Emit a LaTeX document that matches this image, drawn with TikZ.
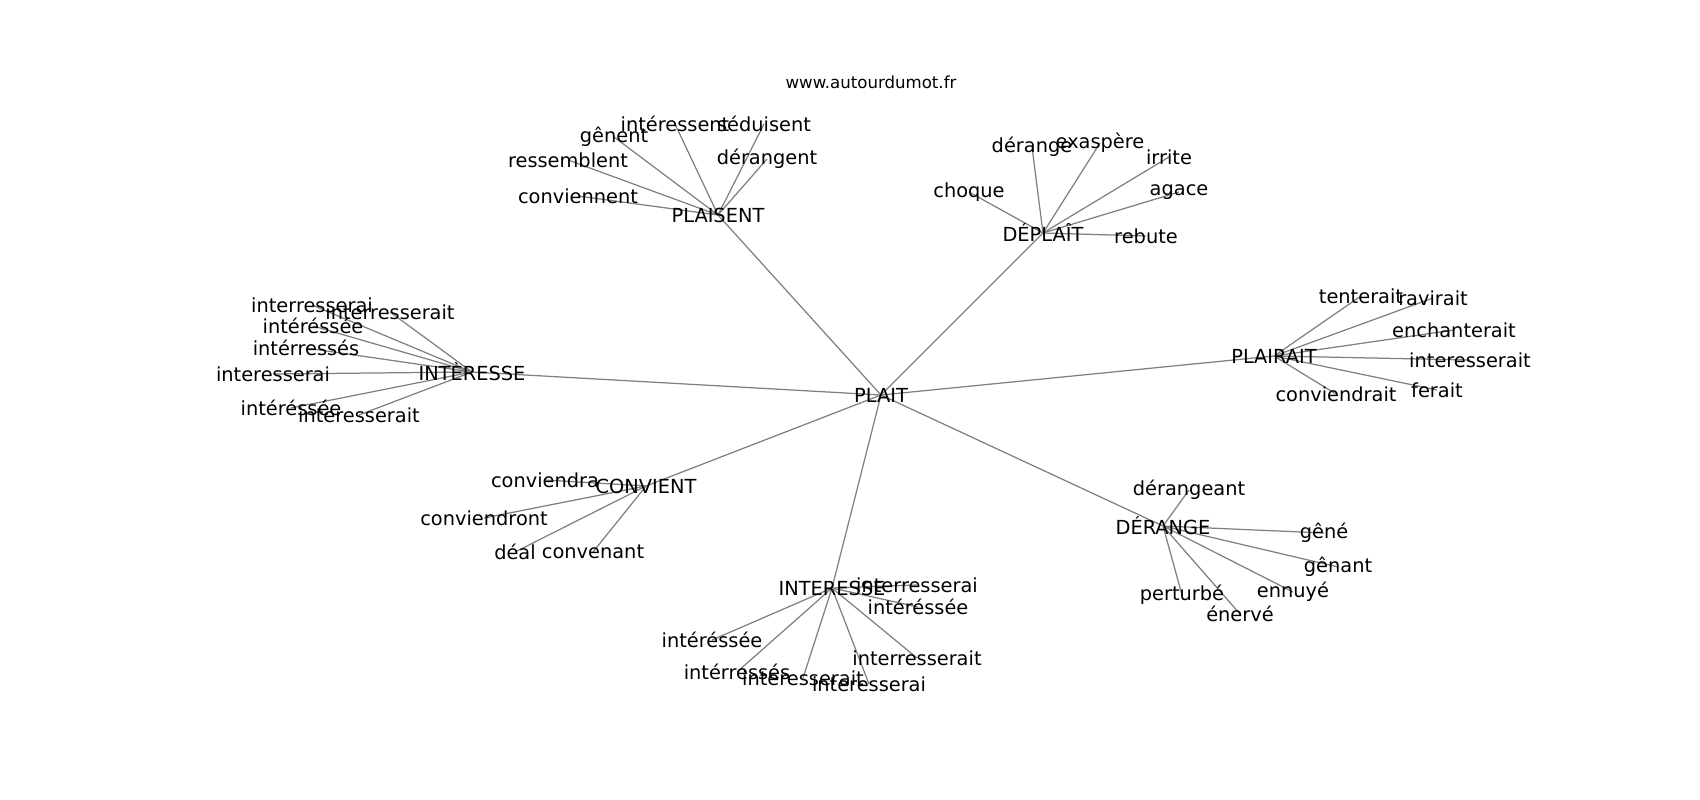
\documentclass[tikz,border=0pt]{standalone}
\usepackage{fontspec}
\setmainfont{DejaVu Sans}
\usepackage{xcolor}
\usepackage{tikz}

\begin{document}
\begin{tikzpicture}[x=0.254mm, y=-0.254mm,
    word/.style={inner sep=0pt, font=\fontsize{14}{16}\selectfont},
    link/.style={draw=gray, line width=0.9pt}]
        \useasboundingbox (0,0) rectangle (1700,800);
        \node[inner sep=0pt, font=\fontsize{12}{14}\selectfont] (site) at (871,82) {www.autourdumot.fr};

        % centre
        \coordinate (plait) at (881,395);
        \coordinate (plaisent) at (718,215);
        \coordinate (deplait) at (1043,233);
        \coordinate (interesse) at (472,372);
        \coordinate (plairait) at (1274,356);
        \coordinate (convient) at (646,486);
        \coordinate (interesseb) at (832,588);
        \coordinate (derange) at (1163,526);

        % PLAISENT
        \coordinate (ps1) at (675,124);
        \coordinate (ps2) at (764,124);
        \coordinate (ps3) at (614,137);
        \coordinate (ps4) at (767,159);
        \coordinate (ps5) at (568,160);
        \coordinate (ps6) at (578,196);

        % DEPLAIT
        \coordinate (dp1) at (1032,147);
        \coordinate (dp2) at (1100,143);
        \coordinate (dp3) at (1169,157);
        \coordinate (dp4) at (969,192);
        \coordinate (dp5) at (1179,192);
        \coordinate (dp6) at (1146,236);

        % INTERESSE (left)
        \coordinate (ia1) at (312,305);
        \coordinate (ia2) at (390,312);
        \coordinate (ia3) at (313,326);
        \coordinate (ia4) at (306,348);
        \coordinate (ia5) at (273,374);
        \coordinate (ia6) at (291,408);
        \coordinate (ia7) at (359,415);

        % PLAIRAIT
        \coordinate (pr1) at (1361,296);
        \coordinate (pr2) at (1433,298);
        \coordinate (pr3) at (1454,330);
        \coordinate (pr4) at (1470,360);
        \coordinate (pr5) at (1336,394);
        \coordinate (pr6) at (1437,390);

        % CONVIENT
        \coordinate (cv1) at (545,480);
        \coordinate (cv2) at (484,518);
        \coordinate (cv3) at (515,552);
        \coordinate (cv4) at (593,552);

        % INTERESSE (bottom)
        \coordinate (ib1) at (917,585);
        \coordinate (ib2) at (918,607);
        \coordinate (ib3) at (712,640);
        \coordinate (ib4) at (737,672);
        \coordinate (ib5) at (803,678);
        \coordinate (ib6) at (917,658);
        \coordinate (ib7) at (869,684);

        % DERANGE
        \coordinate (dr1) at (1189,490);
        \coordinate (dr2) at (1324,533);
        \coordinate (dr3) at (1338,567);
        \coordinate (dr4) at (1293,592);
        \coordinate (dr5) at (1182,595);
        \coordinate (dr6) at (1240,614);

        % links
        \draw[link] (plait) -- (plaisent);
        \draw[link] (plait) -- (deplait);
        \draw[link] (plait) -- (interesse);
        \draw[link] (plait) -- (plairait);
        \draw[link] (plait) -- (convient);
        \draw[link] (plait) -- (interesseb);
        \draw[link] (plait) -- (derange);
        \draw[link] (plaisent) -- (ps1);
        \draw[link] (plaisent) -- (ps2);
        \draw[link] (plaisent) -- (ps3);
        \draw[link] (plaisent) -- (ps4);
        \draw[link] (plaisent) -- (ps5);
        \draw[link] (plaisent) -- (ps6);
        \draw[link] (deplait) -- (dp1);
        \draw[link] (deplait) -- (dp2);
        \draw[link] (deplait) -- (dp3);
        \draw[link] (deplait) -- (dp4);
        \draw[link] (deplait) -- (dp5);
        \draw[link] (deplait) -- (dp6);
        \draw[link] (interesse) -- (ia1);
        \draw[link] (interesse) -- (ia2);
        \draw[link] (interesse) -- (ia3);
        \draw[link] (interesse) -- (ia4);
        \draw[link] (interesse) -- (ia5);
        \draw[link] (interesse) -- (ia6);
        \draw[link] (interesse) -- (ia7);
        \draw[link] (plairait) -- (pr1);
        \draw[link] (plairait) -- (pr2);
        \draw[link] (plairait) -- (pr3);
        \draw[link] (plairait) -- (pr4);
        \draw[link] (plairait) -- (pr5);
        \draw[link] (plairait) -- (pr6);
        \draw[link] (convient) -- (cv1);
        \draw[link] (convient) -- (cv2);
        \draw[link] (convient) -- (cv3);
        \draw[link] (convient) -- (cv4);
        \draw[link] (interesseb) -- (ib1);
        \draw[link] (interesseb) -- (ib2);
        \draw[link] (interesseb) -- (ib3);
        \draw[link] (interesseb) -- (ib4);
        \draw[link] (interesseb) -- (ib5);
        \draw[link] (interesseb) -- (ib6);
        \draw[link] (interesseb) -- (ib7);
        \draw[link] (derange) -- (dr1);
        \draw[link] (derange) -- (dr2);
        \draw[link] (derange) -- (dr3);
        \draw[link] (derange) -- (dr4);
        \draw[link] (derange) -- (dr5);
        \draw[link] (derange) -- (dr6);

        % labels
        \node[word] at (plait) {PLAIT};
        \node[word] at (plaisent) {PLAISENT};
        \node[word] at (deplait) {DÉPLAÎT};
        \node[word] at (interesse) {INTÈRESSE};
        \node[word] at (plairait) {PLAIRAIT};
        \node[word] at (convient) {CONVIENT};
        \node[word] at (interesseb) {INTERESSE};
        \node[word] at (derange) {DÉRANGE};
        \node[word] at (ps1) {intéressent};
        \node[word] at (ps2) {séduisent};
        \node[word] at (ps3) {gênent};
        \node[word] at (ps4) {dérangent};
        \node[word] at (ps5) {ressemblent};
        \node[word] at (ps6) {conviennent};
        \node[word] at (dp1) {dérange};
        \node[word] at (dp2) {exaspère};
        \node[word] at (dp3) {irrite};
        \node[word] at (dp4) {choque};
        \node[word] at (dp5) {agace};
        \node[word] at (dp6) {rebute};
        \node[word] at (ia1) {interresserai};
        \node[word] at (ia2) {interresserait};
        \node[word] at (ia3) {intéréssée};
        \node[word] at (ia4) {intérressés};
        \node[word] at (ia5) {interesserai};
        \node[word] at (ia6) {intéréssée};
        \node[word] at (ia7) {interesserait};
        \node[word] at (pr1) {tenterait};
        \node[word] at (pr2) {ravirait};
        \node[word] at (pr3) {enchanterait};
        \node[word] at (pr4) {interesserait};
        \node[word] at (pr5) {conviendrait};
        \node[word] at (pr6) {ferait};
        \node[word] at (cv1) {conviendra};
        \node[word] at (cv2) {conviendront};
        \node[word] at (cv3) {déal};
        \node[word] at (cv4) {convenant};
        \node[word] at (ib1) {interresserai};
        \node[word] at (ib2) {intéréssée};
        \node[word] at (ib3) {intéréssée};
        \node[word] at (ib4) {intérressés};
        \node[word] at (ib5) {interesserait};
        \node[word] at (ib6) {interresserait};
        \node[word] at (ib7) {interesserai};
        \node[word] at (dr1) {dérangeant};
        \node[word] at (dr2) {gêné};
        \node[word] at (dr3) {gênant};
        \node[word] at (dr4) {ennuyé};
        \node[word] at (dr5) {perturbé};
        \node[word] at (dr6) {énervé};
    \end{tikzpicture}
\end{document}
